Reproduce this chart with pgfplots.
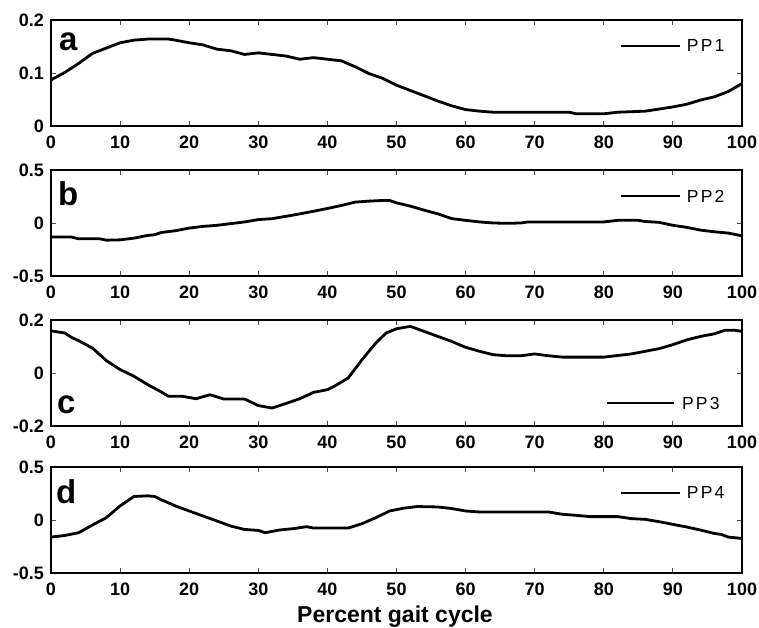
\documentclass[border=0pt]{standalone}
\usepackage{fontspec}
\setmainfont{Liberation Sans}
\usepackage{pgfplots}
\pgfplotsset{compat=1.18}

\tikzset{curve/.style={black, line width=2.8pt, line join=round}}
\pgfplotsset{
  panel/.style={
    scale only axis, width=691pt, height=106pt,
    xmin=0, xmax=100,
    xtick={0,10,...,100},
    xticklabels={0,10,20,30,40,50,60,70,80,90,100},
    tick align=inside,
    major tick length=5pt,
    axis line style={line width=1.4pt},
    every tick/.style={black!70, line width=0.9pt},
    tick label style={font=\bfseries\fontsize{18}{18}\selectfont, inner sep=0pt},
    x tick label style={yshift=-10pt},
    y tick label style={xshift=-7pt},
  },
}
% legend: line from x1 to x2, text at x3, height y (axis description cs)
\newcommand{\legendline}[5]{%
  \draw[curve] (axis description cs:#1,#4) -- (axis description cs:#2,#4);
  \node[anchor=west, inner sep=0pt, font=\fontsize{17.5}{17.5}\selectfont]
    at (axis description cs:#3,#4) {P\kern2.2pt P\kern2.2pt #5};}

\begin{document}
\begin{tikzpicture}
\useasboundingbox (0pt,0pt) rectangle (759pt,-628pt);

% a
\begin{axis}[panel, at={(51pt,-126pt)}, anchor=south west,
  ymin=0, ymax=0.2, ytick={0,0.1,0.2}, yticklabels={0,0.1,0.2}]
\addplot[curve] coordinates {
(0,0.087) (2,0.101) (4,0.118) (6,0.137) (8,0.147) (10,0.157) (12,0.162) (14,0.164)
(17,0.164) (18,0.162) (20,0.157) (22,0.153) (24,0.145) (26,0.142) (28,0.135) (30,0.138)
(32,0.135) (34,0.132) (36,0.126) (38,0.129) (40,0.126) (42,0.123) (44,0.112) (46,0.099)
(48,0.090) (50,0.077) (52,0.067) (54,0.057) (56,0.047) (58,0.038) (60,0.031) (62,0.028)
(64,0.026) (70,0.026) (75,0.026) (76,0.023) (80,0.023) (82,0.026) (86,0.028) (88,0.032)
(90,0.036) (92,0.041) (94,0.049) (96,0.055) (98,0.065) (100,0.080)
};
\legendline{0.825}{0.910}{0.920}{0.755}{1}
\end{axis}

% b
\begin{axis}[panel, at={(51pt,-276pt)}, anchor=south west,
  ymin=-0.5, ymax=0.5, ytick={-0.5,0,0.5}, yticklabels={-0.5,0,0.5}]
\addplot[curve] coordinates {
(0,-0.133) (3,-0.133) (4,-0.149) (7,-0.149) (8,-0.162) (10,-0.159) (12,-0.143) (14,-0.117)
(15,-0.111) (16,-0.089) (18,-0.073) (20,-0.048) (22,-0.032) (24,-0.022) (26,-0.006) (28,0.010)
(30,0.032) (32,0.041) (34,0.063) (36,0.086) (38,0.111) (40,0.137) (42,0.165) (44,0.197)
(46,0.206) (48,0.213) (49,0.213) (50,0.190) (52,0.159) (54,0.121) (56,0.086) (58,0.041)
(60,0.025) (62,0.010) (64,0.000) (66,-0.003) (68,0.000) (69,0.010) (80,0.010) (82,0.025)
(85,0.025) (86,0.014) (88,0.006) (90,-0.022) (92,-0.041) (94,-0.067) (96,-0.083) (98,-0.095)
(100,-0.121)
};
\legendline{0.825}{0.910}{0.920}{0.755}{2}
\end{axis}

% c
\begin{axis}[panel, at={(51pt,-426pt)}, anchor=south west,
  ymin=-0.2, ymax=0.2, ytick={-0.2,0,0.2}, yticklabels={-0.2,0,0.2}]
\addplot[curve] coordinates {
(0,0.159) (2,0.151) (3,0.134) (4,0.122) (6,0.094) (8,0.047) (10,0.013)
(12,-0.012) (14,-0.044) (16,-0.072) (17,-0.088) (19,-0.088) (21,-0.097) (23,-0.082) (25,-0.098)
(28,-0.098) (30,-0.123) (32,-0.132) (34,-0.115) (36,-0.097) (38,-0.073) (40,-0.063) (41,-0.050)
(43,-0.019) (45,0.050) (47,0.113) (48.5,0.151) (50,0.167) (52,0.176) (54,0.157) (56,0.138)
(58,0.119) (60,0.097) (62,0.082) (64,0.069) (66,0.065) (68,0.065) (70,0.072) (72,0.065)
(74,0.060) (80,0.060) (82,0.066) (84,0.072) (86,0.082) (88,0.092) (90,0.107) (92,0.125)
(94,0.138) (96,0.148) (97.5,0.161) (99,0.161) (100,0.157)
};
\legendline{0.805}{0.902}{0.913}{0.217}{3}
\end{axis}

% d
\begin{axis}[panel, at={(51pt,-573pt)}, anchor=south west,
  ymin=-0.5, ymax=0.5, ytick={-0.5,0,0.5}, yticklabels={-0.5,0,0.5}]
\addplot[curve] coordinates {
(0,-0.161) (2,-0.146) (4,-0.120) (6,-0.047) (8,0.022) (10,0.133) (12,0.222) (14,0.228)
(15,0.222) (16,0.190) (18,0.133) (20,0.085) (22,0.038) (24,-0.009) (26,-0.057) (28,-0.089)
(30,-0.098) (31,-0.120) (33,-0.095) (35,-0.082) (37,-0.063) (38,-0.076) (43,-0.076) (45,-0.035)
(47,0.022) (49,0.085) (51,0.111) (53,0.127) (56,0.123) (58,0.108) (60,0.085) (62,0.076)
(72,0.076) (74,0.054) (76,0.044) (78,0.032) (82,0.032) (84,0.013) (86,0.006) (88,-0.016)
(90,-0.041) (92,-0.066) (94,-0.095) (96,-0.127) (97,-0.136) (98,-0.161) (100,-0.174)
};
\legendline{0.825}{0.910}{0.920}{0.755}{4}
\end{axis}

\begin{scope}[every node/.style={anchor=base west, inner sep=0pt, font=\bfseries\fontsize{33}{33}\selectfont}]
\node at (59pt,-51pt) {a};
\node at (58pt,-205pt) {b};
\node at (57pt,-413pt) {c};
\node at (56pt,-503pt) {d};
\end{scope}
\node[anchor=base, inner sep=0pt, font=\bfseries\fontsize{23}{23}\selectfont] at (395pt,-622pt) {Percent gait cycle};
\end{tikzpicture}
\end{document}
